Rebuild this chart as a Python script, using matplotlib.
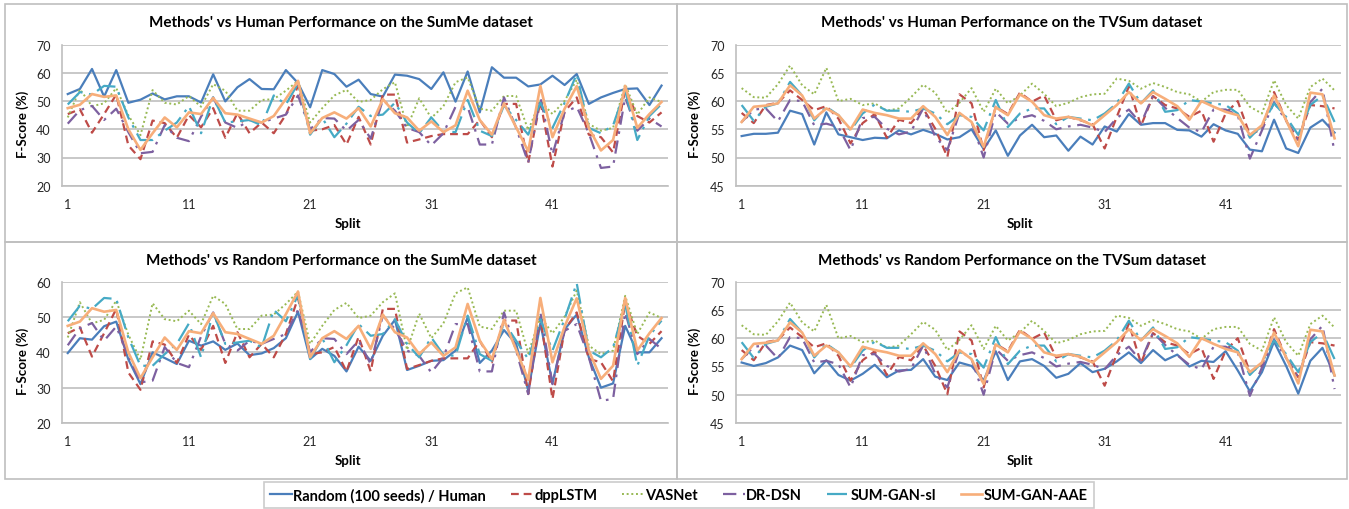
import matplotlib
matplotlib.use("Agg")
import matplotlib.pyplot as plt
from matplotlib.patches import Rectangle
from matplotlib.lines import Line2D
import numpy as np

plt.rcParams['font.family'] = ['Lato', 'DejaVu Sans']

splits = np.arange(1, 51)

# SumMe
summe_human = [52.5, 54.3, 61.4, 51.6, 61.0, 49.4, 50.5, 52.7, 50.6, 51.7,
               51.7, 49.5, 59.5, 49.9, 54.9, 57.8, 54.3, 54.2, 61.0, 56.4,
               47.8, 61.0, 59.6, 55.1, 57.6, 52.5, 51.6, 59.4, 59.0, 57.8,
               54.3, 60.2, 49.8, 60.5, 46.0, 62.0, 58.3, 58.3, 55.2, 55.9,
               59.0, 55.7, 59.6, 49.0, 51.3, 52.9, 54.3, 54.5, 48.6, 55.5]
summe_random = [39.8, 44.0, 43.6, 47.4, 48.7, 38.0, 31.0, 40.0, 38.4, 36.7,
                43.3, 41.9, 43.1, 40.7, 42.5, 39.2, 39.7, 41.2, 44.0, 51.5,
                38.1, 41.0, 39.0, 34.6, 41.6, 37.6, 44.7, 49.2, 35.0, 36.2,
                37.6, 37.8, 40.5, 49.9, 37.0, 40.5, 46.3, 42.4, 29.2, 48.2,
                31.2, 46.5, 50.7, 38.6, 30.0, 31.2, 47.5, 40.0, 40.0, 44.0]
summe_dpp = [45.4, 47.1, 38.8, 45.4, 52.3, 34.3, 29.4, 43.1, 42.2, 37.0,
             45.0, 40.7, 47.5, 37.0, 45.7, 38.6, 42.4, 38.6, 45.2, 55.4,
             39.5, 40.0, 41.5, 34.6, 44.4, 34.6, 52.3, 52.3, 35.3, 36.4,
             37.6, 38.3, 38.3, 38.3, 43.3, 37.2, 49.0, 49.0, 28.2, 49.9,
             26.8, 46.3, 51.3, 38.1, 37.2, 31.8, 54.2, 44.7, 42.4, 46.0]
summe_vas = [44.2, 54.2, 48.2, 49.2, 54.6, 45.0, 37.9, 53.9, 49.4, 48.8,
             51.8, 48.0, 56.0, 53.7, 46.6, 46.6, 50.4, 50.7, 53.7, 57.2,
             42.4, 47.5, 52.0, 54.0, 49.7, 50.4, 54.2, 56.7, 40.7, 51.0,
             44.0, 48.2, 56.7, 58.4, 47.3, 46.6, 51.8, 51.8, 39.7, 50.1,
             45.4, 50.1, 57.5, 41.9, 39.5, 40.5, 56.0, 45.2, 51.3, 49.7]
summe_drdsn = [42.0, 46.8, 48.3, 43.3, 47.3, 39.0, 31.5, 32.0, 41.5, 37.0,
               35.8, 44.5, 51.3, 42.4, 40.5, 43.3, 42.4, 43.8, 45.2, 52.0,
               40.0, 44.0, 43.8, 39.5, 43.3, 36.7, 50.4, 46.6, 40.5, 39.0,
               34.3, 38.6, 48.0, 48.0, 34.6, 34.6, 51.3, 40.5, 28.2, 51.3,
               31.0, 46.1, 48.0, 38.6, 26.3, 26.8, 51.3, 39.5, 43.8, 41.0]
summe_sl = [48.8, 53.2, 52.3, 55.4, 55.1, 44.2, 36.2, 36.2, 39.5, 42.4,
            48.2, 38.6, 51.3, 42.4, 42.8, 43.3, 41.4, 52.0, 48.8, 56.2,
            38.1, 44.0, 37.2, 42.0, 48.0, 44.7, 45.2, 49.4, 42.4, 38.6,
            44.2, 39.3, 39.0, 50.4, 39.5, 37.6, 48.5, 43.3, 38.1, 49.4,
            40.5, 49.4, 59.6, 40.5, 38.6, 41.4, 53.7, 36.2, 44.7, 49.0]
summe_aae = [47.5, 48.7, 52.5, 51.5, 52.0, 40.0, 32.7, 38.6, 44.2, 40.7,
             46.0, 45.4, 51.1, 45.7, 45.2, 43.8, 42.4, 44.7, 50.8, 57.2,
             38.6, 44.0, 46.0, 43.8, 47.5, 41.0, 50.7, 45.7, 44.2, 39.5,
             42.8, 39.0, 41.4, 53.7, 43.3, 38.1, 49.2, 40.7, 32.2, 55.4,
             37.2, 47.3, 55.3, 40.5, 32.5, 36.2, 55.4, 40.5, 45.4, 49.7]

# TVSum
tvsum_human = [53.8, 54.2, 54.2, 54.4, 58.3, 57.7, 52.3, 58.0, 54.1, 53.6,
               53.1, 53.5, 53.4, 54.8, 54.1, 54.9, 54.2, 53.2, 53.6, 55.0,
               51.5, 54.8, 50.3, 53.9, 55.8, 53.6, 53.9, 51.2, 53.7, 52.3,
               55.5, 54.6, 57.7, 55.8, 56.1, 56.1, 54.9, 54.8, 53.7, 55.9,
               54.8, 54.2, 51.4, 51.1, 56.7, 51.6, 50.8, 55.3, 56.7, 54.4]
tvsum_random = [55.7, 55.1, 55.6, 56.6, 58.7, 57.9, 53.8, 56.1, 53.5, 52.5,
                53.7, 55.3, 53.1, 54.3, 54.4, 56.3, 53.2, 52.6, 55.7, 55.1,
                52.5, 57.7, 52.6, 55.9, 56.3, 55.1, 53.0, 53.7, 55.6, 54.0,
                54.6, 55.9, 57.5, 55.6, 57.9, 56.1, 57.1, 55.0, 56.0, 55.8,
                57.7, 54.3, 50.6, 54.0, 59.4, 55.1, 50.2, 56.0, 58.3, 53.4]
tvsum_dpp = [57.9, 56.1, 59.3, 59.7, 61.9, 60.2, 58.4, 59.1, 56.9, 52.5,
             56.1, 57.7, 53.5, 56.7, 56.1, 58.7, 55.1, 50.1, 61.2, 59.6,
             51.3, 59.0, 57.7, 61.5, 59.9, 61.0, 56.6, 57.2, 56.6, 55.9,
             51.6, 57.2, 62.6, 55.6, 60.9, 59.3, 58.7, 57.2, 58.3, 52.8,
             57.8, 60.0, 54.0, 55.1, 61.6, 56.6, 53.1, 59.3, 59.1, 58.7]
tvsum_vas = [62.3, 60.7, 60.6, 63.0, 66.3, 62.8, 61.2, 65.9, 60.0, 60.4,
             59.3, 59.6, 58.3, 58.7, 60.7, 62.9, 61.5, 57.9, 59.7, 62.3,
             58.1, 62.2, 59.6, 61.0, 63.1, 61.3, 59.1, 59.7, 60.7, 61.2,
             61.3, 64.0, 63.6, 62.2, 63.2, 62.5, 61.6, 61.2, 59.9, 61.6,
             62.0, 62.0, 59.0, 57.8, 63.7, 59.3, 56.9, 62.5, 64.0, 61.9]
tvsum_drdsn = [56.3, 58.5, 58.7, 56.4, 60.2, 60.0, 55.7, 56.0, 55.4, 51.3,
               57.0, 57.2, 55.1, 54.1, 54.6, 58.7, 53.7, 51.3, 57.9, 56.3,
               50.0, 58.1, 56.0, 57.0, 57.5, 56.5, 55.0, 55.5, 55.8, 55.3,
               54.5, 57.0, 58.5, 56.0, 61.0, 58.8, 57.0, 55.3, 54.5, 58.5,
               58.5, 57.5, 49.8, 54.8, 59.8, 56.5, 53.0, 59.8, 62.2, 51.0]
tvsum_sl = [59.3, 56.5, 59.0, 59.6, 63.4, 61.0, 56.6, 59.0, 57.5, 54.8,
            57.8, 59.4, 58.3, 58.3, 58.1, 58.7, 57.8, 55.9, 57.5, 57.2,
            54.8, 60.2, 55.4, 57.8, 58.7, 58.7, 55.9, 57.2, 56.9, 56.6,
            57.8, 59.6, 63.1, 59.6, 61.9, 58.1, 58.4, 60.2, 59.9, 59.6,
            59.3, 57.8, 53.5, 55.7, 59.6, 57.2, 54.0, 59.3, 61.0, 56.3]
tvsum_aae = [56.3, 59.0, 59.2, 59.6, 62.8, 61.0, 56.9, 58.7, 57.5, 55.0,
             58.5, 57.9, 57.5, 56.9, 56.9, 59.1, 57.2, 54.0, 57.9, 56.3,
             51.9, 58.9, 57.5, 61.2, 59.9, 57.5, 56.9, 57.2, 56.7, 55.7,
             57.5, 59.3, 61.6, 59.6, 61.6, 60.4, 59.1, 56.7, 60.0, 59.0,
             58.1, 57.5, 54.0, 55.7, 61.0, 56.6, 52.0, 61.5, 61.2, 53.4]

labels = ['Random (100 seeds) / Human', 'dppLSTM', 'VASNet', 'DR-DSN',
          'SUM-GAN-sl', 'SUM-GAN-AAE']
colors = ['#4A7EBB', '#BE4B48', '#98B954', '#7D60A0', '#46AAC5', '#F7AE7A']
styles = [dict(ls='-', lw=1.6),
          dict(ls=(0, (3.5, 2.2)), lw=1.6),
          dict(ls=(0, (1, 1.4)), lw=1.4),
          dict(ls=(0, (6, 3, 1.2, 3)), lw=1.6),
          dict(ls=(0, (9, 3, 1.2, 3)), lw=1.6),
          dict(ls='-', lw=1.9)]

W, H = 1349, 510
fig = plt.figure(figsize=(W / 100, H / 100), dpi=100)
grid_c = '#BFBFBF'


def px_box(x0, y0, x1, y1):
    return [x0 / W, 1 - y1 / H, (x1 - x0) / W, (y1 - y0) / H]


panels = [
    dict(box=(5, 5, 677, 243), ax=(61.7, 45.7, 667.6, 186.7),
         title="Methods' vs Human Performance on the SumMe dataset",
         base=summe_human, methods=[summe_dpp, summe_vas, summe_drdsn, summe_sl, summe_aae],
         ylim=(20, 70), yticks=[20, 30, 40, 50, 60, 70]),
    dict(box=(677, 5, 1347, 243), ax=(735.6, 45.7, 1340.6, 186.7),
         title="Methods' vs Human Performance on the TVSum dataset",
         base=tvsum_human, methods=[tvsum_dpp, tvsum_vas, tvsum_drdsn, tvsum_sl, tvsum_aae],
         ylim=(45, 70), yticks=[45, 50, 55, 60, 65, 70]),
    dict(box=(5, 243, 677, 480), ax=(61.7, 282.7, 667.6, 424),
         title="Methods' vs Random Performance on the SumMe dataset",
         base=summe_random, methods=[summe_dpp, summe_vas, summe_drdsn, summe_sl, summe_aae],
         ylim=(20, 60), yticks=[20, 30, 40, 50, 60]),
    dict(box=(677, 243, 1347, 480), ax=(735.6, 282.7, 1340.6, 424),
         title="Methods' vs Random Performance on the TVSum dataset",
         base=tvsum_random, methods=[tvsum_dpp, tvsum_vas, tvsum_drdsn, tvsum_sl, tvsum_aae],
         ylim=(45, 70), yticks=[45, 50, 55, 60, 65, 70]),
]

for p in panels:
    bx0, by0, bx1, by1 = p['box']
    fig.patches.append(Rectangle((bx0 / W, 1 - by1 / H), (bx1 - bx0) / W, (by1 - by0) / H,
                                 transform=fig.transFigure, fill=False,
                                 edgecolor=grid_c, lw=1.2))
    ax = fig.add_axes(px_box(*p['ax']))
    series = [p['base']] + p['methods']
    for s, c, st in zip(series, colors, styles):
        ax.plot(splits, s, color=c, **st)
    ax.set_xlim(0.5, 50.5)
    ax.set_ylim(*p['ylim'])
    ax.set_yticks(p['yticks'])
    ax.set_xticks([1, 11, 21, 31, 41])
    ax.grid(axis='y', color=grid_c, lw=1.2)
    ax.set_axisbelow(True)
    for side in ['top', 'right']:
        ax.spines[side].set_visible(False)
    for side in ['left', 'bottom']:
        ax.spines[side].set_color(grid_c)
        ax.spines[side].set_linewidth(1.2)
    ax.tick_params(length=0, labelsize=9, colors='#262626')
    ax.tick_params(axis='y', pad=8)
    ax.tick_params(axis='x', pad=9)
    cx = (bx0 + bx1) / 2
    fig.text(cx / W, 1 - (by0 + 18) / H, p['title'], ha='center', va='center',
             fontsize=11, fontweight='bold')
    fig.text((bx0 + 17.5) / W, 1 - ((by0 + by1) / 2) / H, 'F-Score (%)', rotation=90,
             ha='center', va='center', fontsize=9.5, fontweight='bold')
    fig.text((bx0 + 343) / W, 1 - (p['ax'][3] + 37) / H, 'Split', ha='center',
             va='center', fontsize=9.5, fontweight='bold')

handles = [Line2D([], [], color=c, **st) for c, st in zip(colors, styles)]
leg = fig.legend(handles, labels, loc='center', bbox_to_anchor=(679 / W, 1 - 496 / H),
                 ncol=6, frameon=True, fancybox=False, edgecolor=grid_c,
                 handlelength=1.5, handletextpad=0.1, columnspacing=1.7,
                 borderpad=0.4, prop=dict(size=10.5, weight='bold'))
leg.get_frame().set_linewidth(1.2)

fig.savefig('out.png', dpi=100)
